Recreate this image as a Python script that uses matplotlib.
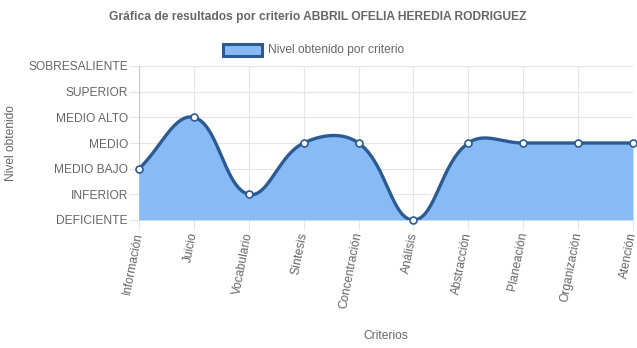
import numpy as np
import matplotlib
matplotlib.use("Agg")
import matplotlib.pyplot as plt
from matplotlib.patches import Rectangle

plt.rcParams["font.family"] = ["Liberation Sans", "DejaVu Sans"]

criterios = ["Información", "Juicio", "Vocabulario", "Síntesis", "Concentración",
             "Análisis", "Abstracción", "Planeación", "Organización", "Atención"]
niveles = ["DEFICIENTE", "INFERIOR", "MEDIO BAJO", "MEDIO", "MEDIO ALTO",
           "SUPERIOR", "SOBRESALIENTE"]
valores = [2, 4, 1, 3, 3, 0, 3, 3, 3, 3]

LINE = "#2c5b94"
FILL = "#88baf6"
GRID = "#e5e5e5"
TXT = "#666666"
FS = 8.64

W, H = 637, 348
fig = plt.figure(figsize=(W / 100, H / 100), dpi=100)
left, right, top, bottom = 139, 633, 66, 220
ax = fig.add_axes([left / W, 1 - bottom / H, (right - left) / W, (bottom - top) / H])

n = len(criterios)
ymax = len(niveles) - 1
ax.set_xlim(0, n - 1)
ax.set_ylim(0, ymax)

# curva tipo Chart.js (tension 0.4), calculada en pixeles
sx = (right - left) / (n - 1)
sy = (bottom - top) / ymax
px = np.arange(n) * sx
py = np.array(valores, dtype=float) * sy
t = 0.4
prev_c, next_c = [], []
for i in range(n):
    p0 = (px[max(i - 1, 0)], py[max(i - 1, 0)])
    p1 = (px[i], py[i])
    p2 = (px[min(i + 1, n - 1)], py[min(i + 1, n - 1)])
    d01 = np.hypot(p1[0] - p0[0], p1[1] - p0[1])
    d12 = np.hypot(p2[0] - p1[0], p2[1] - p1[1])
    tot = d01 + d12
    s01 = d01 / tot if tot else 0
    s12 = d12 / tot if tot else 0
    fa, fb = t * s01, t * s12
    pc = [p1[0] - fa * (p2[0] - p0[0]), p1[1] - fa * (p2[1] - p0[1])]
    nc = [p1[0] + fb * (p2[0] - p0[0]), p1[1] + fb * (p2[1] - p0[1])]
    for c in (pc, nc):
        c[0] = min(max(c[0], 0), px[-1])
        c[1] = min(max(c[1], 0), ymax * sy)
    prev_c.append(pc)
    next_c.append(nc)

u = np.linspace(0, 1, 60)
cx, cy = [], []
for i in range(n - 1):
    P0 = np.array([px[i], py[i]])
    P1 = np.array(next_c[i])
    P2 = np.array(prev_c[i + 1])
    P3 = np.array([px[i + 1], py[i + 1]])
    b = ((1 - u) ** 3)[:, None] * P0 + (3 * (1 - u) ** 2 * u)[:, None] * P1 \
        + (3 * (1 - u) * u ** 2)[:, None] * P2 + (u ** 3)[:, None] * P3
    cx.extend(b[:, 0] / sx)
    cy.extend(b[:, 1] / sy)
cx = np.array(cx)
cy = np.array(cy)

ax.fill_between(cx, 0, cy, color=FILL, lw=0, zorder=2)
ax.plot(cx, cy, color=LINE, lw=2.4, zorder=3, solid_capstyle="round")
ax.plot(range(n), valores, ls="none", marker="o", ms=5, mfc="white",
        mec=LINE, mew=1.2, zorder=4, clip_on=False)

ax.set_xticks(range(n))
ax.set_xticklabels(criterios, rotation=79, ha="right", va="center",
                   rotation_mode="anchor")
ax.set_yticks(range(len(niveles)))
ax.set_yticklabels(niveles)
ax.tick_params(axis="both", length=7, width=0.8, color=GRID, labelcolor=TXT,
               labelsize=FS)
ax.tick_params(axis="x", pad=2)
ax.tick_params(axis="y", pad=1)
ax.grid(True, color=GRID, lw=0.8, zorder=1)
ax.set_axisbelow(True)
for s in ax.spines.values():
    s.set_visible(False)
ax.axvline(0, color="#c8c8c8", lw=0.8, zorder=1)
ax.axhline(0, color="#c8c8c8", lw=0.8, zorder=1)

fig.text(318 / W, 1 - 17 / H, "Gráfica de resultados por criterio ABBRIL OFELIA HEREDIA RODRIGUEZ",
         ha="center", va="center", fontsize=FS, fontweight="bold", color=TXT)
fig.patches.append(Rectangle((223 / W, 1 - 56 / H), 39 / W, 12 / H, transform=fig.transFigure,
                             facecolor=FILL, edgecolor=LINE, lw=2.2))
fig.text(268 / W, 1 - 49.5 / H, "Nivel obtenido por criterio", ha="left", va="center",
         fontsize=FS, color=TXT)
fig.text(11 / W, 1 - 143 / H, "Nivel obtenido", rotation=90, ha="center", va="center",
         fontsize=FS, color=TXT)
fig.text(386 / W, 1 - 336 / H, "Criterios", ha="center", va="center",
         fontsize=FS, color=TXT)

fig.savefig("out.png", dpi=100)
